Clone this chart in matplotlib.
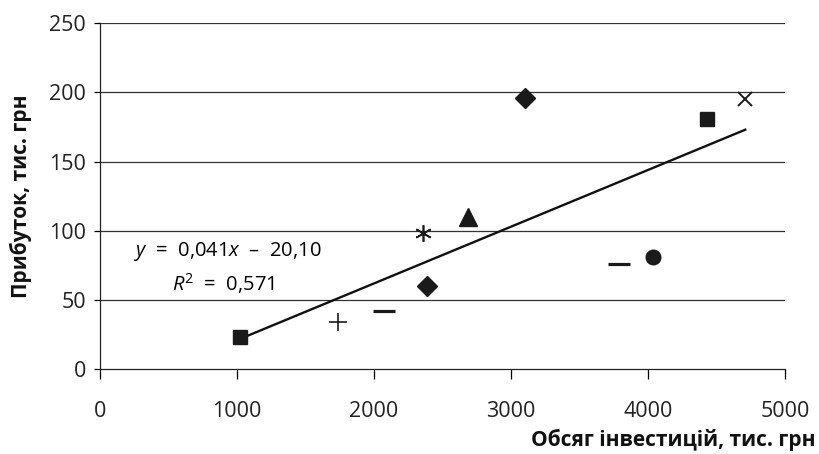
import matplotlib
matplotlib.use("Agg")
import matplotlib.pyplot as plt
import numpy as np

# Дані: обсяг інвестицій та прибуток, тис. грн
invest = [1020, 1740, 2070, 2390, 2360, 2690, 3100, 3790, 4040, 4430, 4710]
profit = [23, 34, 42, 60, 98, 110, 196, 76, 81, 181, 195]

# Параметри лінії тренду (з підпису на графіку)
slope = 0.041
intercept = -20.10
r2 = 0.571

x_ticks = [0, 1000, 2000, 3000, 4000, 5000]
y_ticks = [0, 50, 100, 150, 200, 250]

# Маркери для кожної точки (ms, mew у пунктах)
markers = [
    ("s", 9.5, 1.0),
    ("+", 13, 1.2),
    ("_", 16.5, 2.3),
    ("D", 10.2, 1.0),
    ((6, 2, 0), 12, 1.2),
    ("^", 13, 1.0),
    ("D", 10.2, 1.0),
    ("_", 16.5, 2.3),
    ("o", 10.5, 1.0),
    ("s", 9.5, 1.0),
    ("x", 9.5, 1.4),
]

plt.rcParams["font.family"] = ["Open Sans", "DejaVu Sans"]
plt.rcParams["mathtext.fontset"] = "custom"
plt.rcParams["mathtext.rm"] = "Open Sans"
plt.rcParams["mathtext.it"] = "Open Sans:italic"

fig = plt.figure(figsize=(8.19, 4.54), dpi=100)
ax = fig.add_axes([0.122, 0.187, 0.8365, 0.762])

# Горизонтальна сітка
for y in y_ticks[1:]:
    ax.axhline(y, color="#333333", lw=0.9, zorder=1)

# Точки
for xi, yi, (m, ms, mew) in zip(invest, profit, markers):
    ax.plot(xi, yi, linestyle="none", marker=m, ms=ms, mew=mew,
            color="#1a1a1a", zorder=3)

# Лінія тренду
xl = np.array([min(invest), max(invest)])
ax.plot(xl, slope * xl + intercept, color="#111111", lw=1.7, zorder=2)

eq = f"$y$  =  {slope:.3f}$x$  –  {abs(intercept):.2f}".replace(".", ",")
rr = f"$R^{{\\mathrm{{2}}}}$  =  {r2:.3f}".replace(".", ",")
ax.text(934, 85, eq, fontsize=14.5, ha="center", va="center")
ax.text(898, 61.5, rr, fontsize=14.5, ha="center", va="center")

ax.set_xlim(0, 5000)
ax.set_ylim(0, 250)
ax.set_xticks(x_ticks)
ax.set_yticks(y_ticks)
ax.tick_params(axis="x", direction="out", length=7, width=0.9, pad=16, labelsize=15.5,
               labelcolor="#222222")
ax.tick_params(axis="y", direction="out", length=4, width=0.9, pad=6, labelsize=15.5,
               labelcolor="#222222")

for s in ["top", "right"]:
    ax.spines[s].set_visible(False)
for s in ["left", "bottom"]:
    ax.spines[s].set_linewidth(0.9)
    ax.spines[s].set_color("#222222")

ax.set_ylabel("Прибуток, тис. грн", fontsize=15, fontweight="bold", labelpad=12,
              color="#111111")
fig.text(0.996, 0.031, "Обсяг інвестицій, тис. грн", fontsize=15,
         fontweight="bold", ha="right", va="center", color="#111111")

fig.savefig("out.png", dpi=100)
